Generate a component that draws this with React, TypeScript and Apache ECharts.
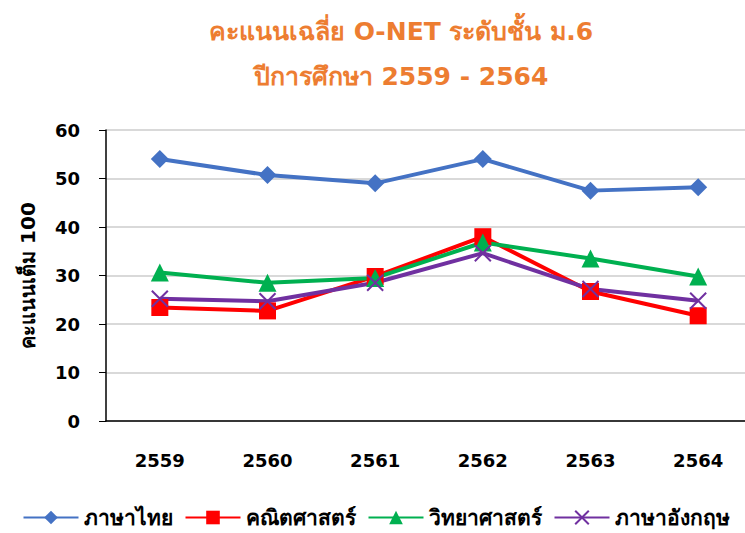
import React, { useEffect, useRef } from "react";
import * as echarts from "echarts";

const categories = ["2559", "2560", "2561", "2562", "2563", "2564"];
const thai = [54.0, 50.7, 49.0, 54.0, 47.5, 48.2];
const math = [23.4, 22.7, 29.8, 38.0, 26.7, 21.7];
const science = [30.6, 28.5, 29.5, 36.8, 33.5, 29.8];
const english = [25.2, 24.7, 28.5, 34.6, 27.2, 24.8];
const seriesNames = ["ภาษาไทย", "คณิตศาสตร์", "วิทยาศาสตร์", "ภาษาอังกฤษ"];

const FONT = "'DejaVu Sans', 'Noto Sans', sans-serif";

export default function App() {
  const ref = useRef<HTMLDivElement>(null);
  useEffect(() => {
    if (!ref.current) return;
    const chart = echarts.init(ref.current, null, { renderer: "svg" });
    chart.setOption({
      animation: false,
      backgroundColor: "#ffffff",
      title: {
        text: "คะแนนเฉลี่ย O-NET ระดับชั้น ม.6\nปีการศึกษา 2559 - 2564",
        left: 396,
        top: 4,
        textAlign: "center",
        textStyle: {
          color: "#ED7D31",
          fontSize: 25,
          fontWeight: "bold",
          fontFamily: FONT,
          lineHeight: 45,
        },
      },
      legend: {
        bottom: 0,
        left: "center",
        itemWidth: 55,
        itemHeight: 17,
        itemGap: 12,
        textStyle: {
          fontSize: 21,
          fontWeight: "bold",
          color: "#000",
          fontFamily: FONT,
        },
        data: seriesNames,
      },
      grid: { left: 106, top: 130, bottom: 112, right: 0 },
      xAxis: {
        type: "category",
        data: categories,
        boundaryGap: true,
        axisLine: { lineStyle: { color: "#000", width: 1.5 } },
        axisTick: { alignWithLabel: true, length: 7, lineStyle: { color: "#000" } },
        axisLabel: {
          margin: 30,
          fontSize: 18,
          fontWeight: "bold",
          color: "#000",
          fontFamily: FONT,
        },
      },
      yAxis: {
        type: "value",
        min: 0,
        max: 60,
        interval: 10,
        name: "คะแนนเต็ม 100",
        nameLocation: "middle",
        nameGap: 68,
        nameTextStyle: {
          fontSize: 20,
          fontWeight: "bold",
          color: "#000",
          fontFamily: FONT,
        },
        axisLine: { show: true, lineStyle: { color: "#000", width: 1.5 } },
        axisTick: { show: true, length: 7, lineStyle: { color: "#000" } },
        splitLine: { lineStyle: { color: "#d9d9d9", width: 2 } },
        axisLabel: {
          margin: 26,
          fontSize: 18,
          fontWeight: "bold",
          color: "#000",
          fontFamily: FONT,
        },
      },
      series: [
        {
          type: "line",
          name: seriesNames[0],
          data: thai,
          symbol: "diamond",
          symbolSize: 18,
          color: "#4472C4",
          itemStyle: { color: "#4472C4" },
          lineStyle: { width: 4, color: "#4472C4" },
        },
        {
          type: "line",
          name: seriesNames[1],
          data: math,
          symbol: "rect",
          symbolSize: 17,
          color: "#FF0000",
          itemStyle: { color: "#FF0000" },
          lineStyle: { width: 4, color: "#FF0000" },
        },
        {
          type: "line",
          name: seriesNames[2],
          data: science,
          symbol: "triangle",
          symbolSize: 18,
          color: "#00B050",
          itemStyle: { color: "#00B050" },
          lineStyle: { width: 4, color: "#00B050" },
        },
        {
          type: "line",
          name: seriesNames[3],
          data: english,
          symbol: "path://M0,0 L10,10 M10,0 L0,10",
          symbolSize: 16,
          color: "#7030A0",
          itemStyle: { color: "#7030A0", borderColor: "#7030A0", borderWidth: 2 },
          lineStyle: { width: 4, color: "#7030A0" },
        },
      ],
    });
    return () => chart.dispose();
  }, []);
  return (
    <div style={{ width: 745, height: 533, position: "absolute", left: 0, top: 0, overflow: "hidden" }}>
      <div ref={ref} style={{ width: 752, height: 533 }} />
    </div>
  );
}
